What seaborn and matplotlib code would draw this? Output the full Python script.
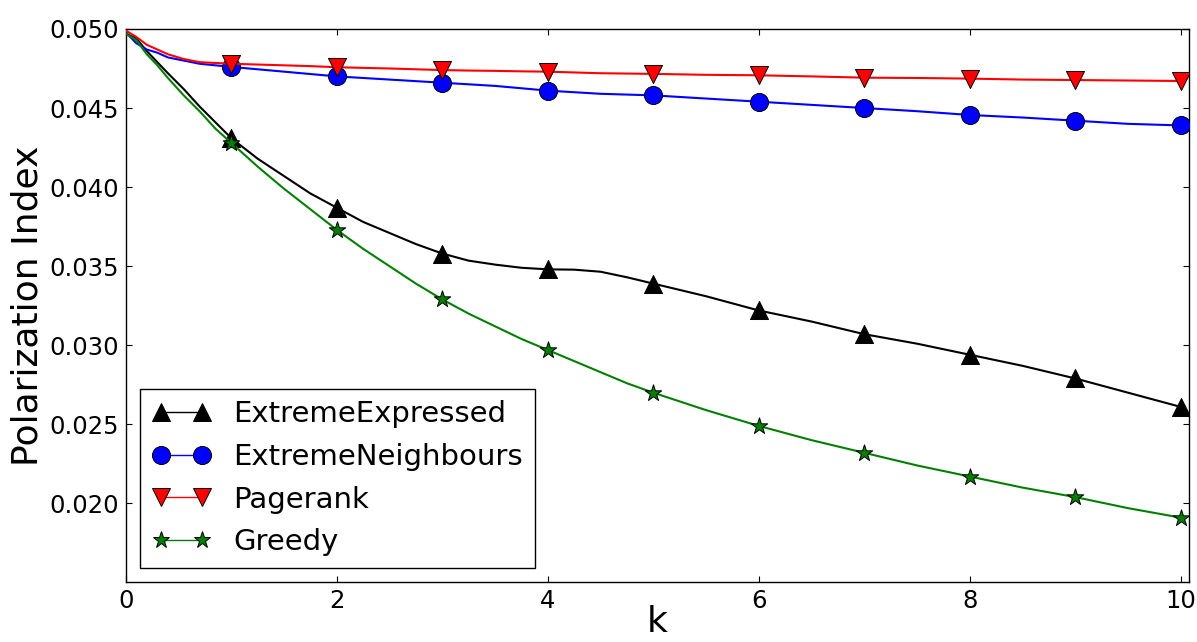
import numpy as np
import matplotlib
matplotlib.use("Agg")
import matplotlib.pyplot as plt
from matplotlib.lines import Line2D
import seaborn as sns

# k grid (line samples); markers sit on the integer k values 1..10
k = np.array([0, 0.1, 0.2, 0.3, 0.4, 0.55, 0.7, 0.85,
              1, 1.25, 1.5, 1.75, 2, 2.25, 2.5, 2.75, 3, 3.25, 3.5, 3.75,
              4, 4.25, 4.5, 4.75, 5, 5.5, 6, 6.5, 7, 7.5, 8, 8.5, 9, 9.5, 10])

extreme_expressed = np.array([0.0497, 0.0494, 0.0486, 0.0479, 0.0472, 0.0462, 0.0451, 0.0441,
                              0.0431, 0.0418, 0.0407, 0.0396, 0.0387, 0.0378, 0.0371, 0.0364,
                              0.0358, 0.03535, 0.0351, 0.0349,
                              0.0348, 0.03478, 0.03465, 0.0343, 0.0339, 0.0331, 0.0322, 0.0315,
                              0.0307, 0.0301, 0.0294, 0.0287, 0.0279, 0.0270, 0.0261])
extreme_neighbours = np.array([0.0498, 0.0491, 0.0487, 0.0485, 0.0482, 0.0480, 0.0478, 0.0477,
                               0.0476, 0.04745, 0.0473, 0.04715, 0.0470, 0.0469, 0.0468, 0.0467,
                               0.0466, 0.0465, 0.0464, 0.04625,
                               0.0461, 0.0460, 0.0459, 0.04585, 0.0458, 0.0456, 0.0454, 0.0452,
                               0.0450, 0.0448, 0.04456, 0.0444, 0.0442, 0.0440, 0.0439])
pagerank = np.array([0.0499, 0.0495, 0.0490, 0.0487, 0.0484, 0.0481, 0.0479, 0.04785,
                     0.0478, 0.04775, 0.0477, 0.04765, 0.04758, 0.04754, 0.0475, 0.04745,
                     0.0474, 0.04737, 0.04735, 0.04732,
                     0.0473, 0.04725, 0.0472, 0.04718, 0.04716, 0.0471, 0.04707, 0.0470,
                     0.04692, 0.0469, 0.04686, 0.0468, 0.04677, 0.04674, 0.04671])
greedy = np.array([0.0497, 0.0493, 0.0484, 0.0477, 0.0469, 0.0458, 0.0448, 0.0437,
                   0.0428, 0.0413, 0.0399, 0.0386, 0.0373, 0.0361, 0.0350, 0.0339,
                   0.0329, 0.0320, 0.0312, 0.0304,
                   0.0297, 0.0290, 0.0283, 0.0276, 0.0270, 0.0259, 0.0249, 0.0240,
                   0.0232, 0.0224, 0.0217, 0.0210, 0.0204, 0.0197, 0.0191])

labels = ["ExtremeExpressed", "ExtremeNeighbours", "Pagerank", "Greedy"]
colors = ["black", "#0000ff", "#ff0000", "#008000"]
markers = ["^", "o", "v", "*"]
msizes = [13, 13, 13, 12.5]

x_ticks = [0, 2, 4, 6, 8, 10]
y_ticks = [0.020, 0.025, 0.030, 0.035, 0.040, 0.045, 0.050]

sns.set_style("white")
plt.rcParams["font.family"] = ["DejaVu Sans"]
plt.rcParams.update({"text.color": "black", "axes.labelcolor": "black",
                     "xtick.color": "black", "ytick.color": "black"})

fig = plt.figure(figsize=(11.97, 6.42), dpi=100)
ax = fig.add_axes([0.1050, 0.0927, 0.8881, 0.8622])

on_marker = np.isclose(k, np.round(k)) & (k >= 1)
series = [extreme_expressed, extreme_neighbours, pagerank, greedy]
handles = []
for i, (vals, lab, col, mk, ms) in enumerate(zip(series, labels, colors, markers, msizes)):
    sns.lineplot(x=k, y=vals, color=col, linewidth=1.5, estimator=None,
                 sort=False, ax=ax, zorder=3 + i)
    sns.scatterplot(x=k[on_marker], y=vals[on_marker], marker=mk, s=ms ** 2, color=col,
                    edgecolor="black", linewidth=0.7, ax=ax, zorder=3 + i, legend=False)
    handles.append(Line2D([], [], color=col, linewidth=1, marker=mk, markersize=ms,
                          markeredgecolor="black", markeredgewidth=0.7, label=lab))

ax.set_xlim(0, 10.075)
ax.set_ylim(0.015, 0.050)
ax.set_xticks(x_ticks)
ax.set_yticks(y_ticks)
ax.set_yticklabels(["%.3f" % v for v in y_ticks])
ax.tick_params(direction="in", length=4, width=0.8, labelsize=17.5, pad=5,
               top=True, right=True, bottom=True, left=True)
for sp in ax.spines.values():
    sp.set_color("black")
    sp.set_linewidth(1)

ax.set_xlabel("k", fontsize=26, labelpad=-6)
ax.set_ylabel("Polarization Index", fontsize=26, labelpad=3)

leg = ax.legend(handles=handles, loc="lower left", numpoints=2, fontsize=21,
                fancybox=False, framealpha=1, edgecolor="black", handlelength=2,
                borderaxespad=0.5)
leg.get_frame().set_linewidth(1)

fig.savefig("out.png", dpi=100)
